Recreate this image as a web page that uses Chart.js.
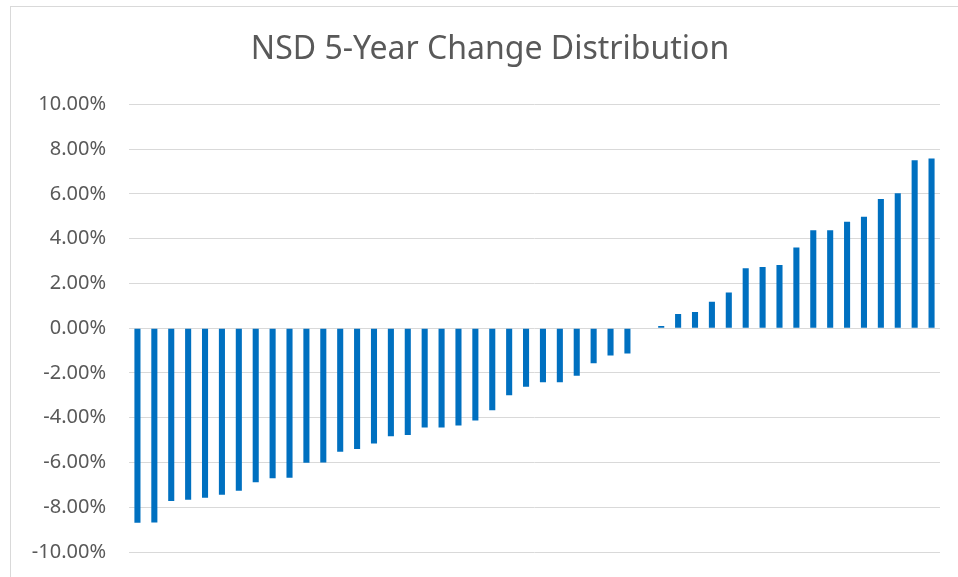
<!DOCTYPE html>
<html>
<head>
<meta charset="utf-8">
<script src="https://cdn.jsdelivr.net/npm/chart.js@4.4.1/dist/chart.umd.min.js"></script>
<style>
  html, body { margin: 0; padding: 0; background: #fff; }
  #wrap { position: relative; width: 958px; height: 577px; }
  #frame {
    position: absolute; left: 10px; top: 6px; right: 0; bottom: 0;
    border-left: 1px solid #d9d9d9; border-top: 1px solid #d9d9d9;
    pointer-events: none;
  }
</style>
</head>
<body>
<div id="wrap">
  <canvas id="chart" width="958" height="577"></canvas>
  <div id="frame"></div>
</div>
<script>
// 数据
const chartTitle = 'NSD 5-Year Change Distribution';
const changeValues = [
  -8.69, -8.68, -7.72, -7.67, -7.58, -7.44, -7.26, -6.88, -6.70, -6.68,
  -6.01, -6.00, -5.52, -5.40, -5.15, -4.83, -4.77, -4.44, -4.44, -4.35,
  -4.12, -3.67, -3.00, -2.62, -2.42, -2.42, -2.13, -1.57, -1.22, -1.13,
  0, 0.10, 0.64, 0.72, 1.18, 1.60, 2.68, 2.74, 2.82, 3.61,
  4.38, 4.38, 4.76, 4.98, 5.77, 6.03, 7.50, 7.58
];
const categories = changeValues.map((v, i) => String(i + 1));
const yMin = -10;
const yMax = 10;
const yStep = 2;

const ctx = document.getElementById('chart').getContext('2d');

new Chart(ctx, {
  type: 'bar',
  data: {
    labels: categories,
    datasets: [{
      label: '5-Year Change',
      data: changeValues,
      backgroundColor: '#0070c0',
      borderWidth: 0,
      categoryPercentage: 1,
      barPercentage: 0.36
    }]
  },
  options: {
    responsive: false,
    animation: false,
    layout: {
      padding: { left: 22, right: 0, top: 0, bottom: 25 }
    },
    scales: {
      x: {
        display: false
      },
      y: {
        min: yMin,
        max: yMax,
        border: { display: false },
        grid: {
          color: '#d9d9d9',
          lineWidth: 1,
          drawTicks: true,
          tickLength: 23,
          tickColor: 'rgba(0,0,0,0)'
        },
        ticks: {
          stepSize: yStep,
          padding: 0,
          color: '#595959',
          font: { family: 'Noto Sans', size: 20 },
          callback: v => v.toFixed(2) + '%'
        },
        afterFit: scale => { scale.width = 107; }
      },
      // 右侧占位轴，让绘图区右边留白
      yRight: {
        position: 'right',
        display: true,
        border: { display: false },
        grid: { display: false, drawTicks: false },
        ticks: { display: false },
        afterFit: scale => { scale.width = 18; }
      }
    },
    plugins: {
      legend: { display: false },
      tooltip: { enabled: false },
      title: {
        display: true,
        text: chartTitle,
        color: '#595959',
        font: { family: 'Noto Sans', size: 32, weight: 'normal' },
        padding: { top: 31, bottom: 35 }
      }
    }
  }
});
</script>
</body>
</html>
